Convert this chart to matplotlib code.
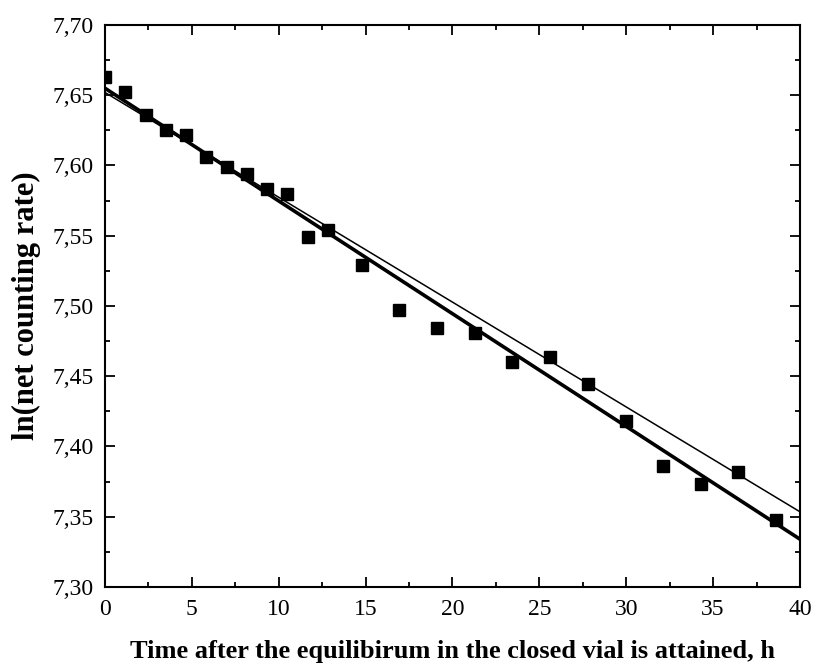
import matplotlib.pyplot as plt
from matplotlib.ticker import MultipleLocator, FuncFormatter

# measured points: time (h) and ln(net counting rate)
time_h = [0.0, 1.15, 2.36, 3.51, 4.66, 5.81, 7.0, 8.15, 9.34, 10.5, 11.67, 12.86,
          14.77, 16.94, 19.09, 21.3, 23.44, 25.61, 27.78, 29.96, 32.13, 34.3, 36.45, 38.62]
ln_rate = [7.663, 7.6525, 7.636, 7.625, 7.622, 7.606, 7.599, 7.594, 7.583, 7.580, 7.549, 7.554,
           7.529, 7.497, 7.484, 7.481, 7.460, 7.4635, 7.4445, 7.418, 7.386, 7.373, 7.382, 7.348]

# fitted lines (end points at t=0 and t=40)
fit_t = [0, 40]
fit_thick = [7.655, 7.334]
fit_thin = [7.652, 7.3535]

plt.rcParams['font.family'] = ['Liberation Serif', 'DejaVu Serif']

fig = plt.figure(figsize=(8.15, 6.7), dpi=100)
ax = fig.add_axes([0.1288, 0.1239, 0.8528, 0.8388])

ax.plot(fit_t, fit_thin, color='black', linewidth=1.1)
ax.plot(fit_t, fit_thick, color='black', linewidth=2.6)
ax.plot(time_h, ln_rate, linestyle='none', marker='s', markersize=9, color='black')

ax.set_xlim(0, 40)
ax.set_ylim(7.30, 7.70)
ax.xaxis.set_major_locator(MultipleLocator(5))
ax.xaxis.set_minor_locator(MultipleLocator(2.5))
ax.yaxis.set_major_locator(MultipleLocator(0.05))
ax.yaxis.set_minor_locator(MultipleLocator(0.025))
ax.yaxis.set_major_formatter(FuncFormatter(lambda v, p: f"{v:.2f}".replace('.', ',')))

ax.tick_params(which='both', direction='in', top=True, right=True, width=1.3, labelsize=17)
ax.tick_params(which='major', length=7)
ax.tick_params(which='minor', length=3.5)
ax.tick_params(axis='x', pad=9)
ax.tick_params(axis='y', pad=8)
for s in ax.spines.values():
    s.set_linewidth(1.5)

ax.set_xlabel('Time after the equilibirum in the closed vial is attained, h',
              fontsize=19, fontweight='bold', labelpad=14)
ax.set_ylabel('ln(net counting rate)', fontsize=22, fontweight='bold', labelpad=8)

fig.savefig('out.png', dpi=100)
